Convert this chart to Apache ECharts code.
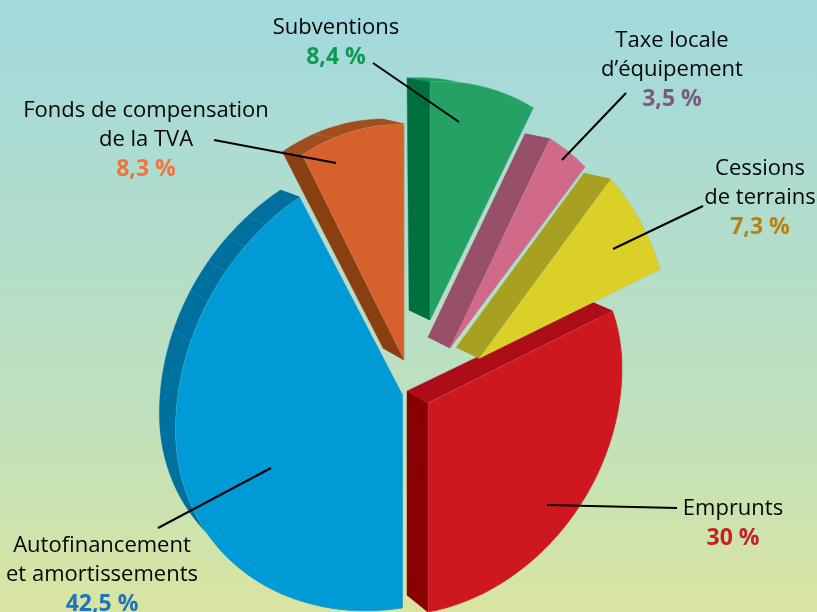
<!DOCTYPE html>
<html>
<head>
<meta charset="utf-8">
<style>
  html, body { margin: 0; padding: 0; }
  #chart { width: 817px; height: 612px; }
</style>
</head>
<body>
<div id="chart"></div>
<script src="https://cdn.jsdelivr.net/npm/echarts@6/dist/echarts.min.js"></script>
<script>
// parts, clockwise from 12 o'clock
const names = [
  ['Subventions'],
  ['Taxe locale', 'd’équipement'],
  ['Cessions', 'de terrains'],
  ['Emprunts'],
  ['Autofinancement', 'et amortissements'],
  ['Fonds de compensation', 'de la TVA']
]
const shares = [8.4, 3.5, 7.3, 30, 42.5, 8.3]

// look of each slice, same order as shares
const faceColors = ['#24a265', '#d16a89', '#dbd028', '#ce171f', '#009bd6', '#d5612d']
// start edge, rim, end edge
const sideColors = [
  ['#01703f', '#1f9a5e', '#01703f'],
  ['#98506a', '#98506a', '#98506a'],
  ['#a8a021', '#a8a021', '#a8a021'],
  ['#ad0d16', '#890000', '#890000'],
  ['#00709f', '#00709f', '#00709f'],
  ['#8a3f12', '#a24d1e', '#8a3f12']
]
const valueColors = ['#0e9a50', '#7b5a7f', '#b8820f', '#c5202b', '#1f75bb', '#f0743a']
const layerOrder = [3, 4, 2, 1, 0, 5]
const angleShift = [0, 0, 0, 2.88, 2.88, 0]
const apexes = [[430, 320], [450, 348], [479.3, 358.3], [428, 403], [402.5, 395], [404, 360]]
// tilted pie: x stretch, y shear, upper radius, lower radius
const tilt = [
  [205, -13, 238, 238],
  [198.5, -14, 234, 234],
  [193.5, -3.5, 241, 241],
  [194, -35, 190, 209],
  [227, -35, 240, 213],
  [204, 1, 236, 236]
]
// extrusion offset at apex, at start of arc, at end of arc
const depths = [
  [[-21, -10], [-23, -4], [-23, -4]],
  [[-22, -11], [-25, -5], [-25, -5]],
  [[-23, -11], [-27, -6], [-27, -6]],
  [[-21, -12], [-21, -9], [-21, -17]],
  [[-20, -10], [-12, -24], [-19, -7]],
  [[-21, -12], [-20, -3], [-22, -5]]
]
const facetLines = [[], [], [], [], [291, 301, 309, 316, 323], [340]]

// label blocks: centre x, first line y, then the end points of the leader
const labelX = [336, 672, 760, 733, 102, 146]
const labelY = [28, 41, 169, 509, 546, 111]
const leaders = [
  [373, 63, 459, 122],
  [626, 93, 562, 160],
  [703, 206, 613, 249],
  [677, 508, 547, 505],
  [158, 528, 271, 468],
  [214, 140, 336, 163]
]
const lineStep = 29

const startAngles = []
shares.reduce((sum, v, i) => {
  startAngles[i] = sum + angleShift[i]
  return sum + v * 3.6
}, 0)

function renderSlice(params, api) {
  const i = params.dataIndex
  const sweep = api.value(0) * 3.6
  const t0 = startAngles[i]
  const t1 = t0 + sweep
  const [ax, ay] = apexes[i]
  const [a, b, cUp, cDown] = tilt[i]
  const [offApex, offStart, offEnd] = depths[i]

  const front = (deg) => {
    const r = deg * Math.PI / 180
    const s = Math.sin(r)
    const c = Math.cos(r)
    return [ax + a * s, ay + b * s - (c > 0 ? cUp : cDown) * c]
  }
  const back = (deg) => {
    const p = front(deg)
    const k = (deg - t0) / sweep
    return [
      p[0] + offStart[0] + (offEnd[0] - offStart[0]) * k,
      p[1] + offStart[1] + (offEnd[1] - offStart[1]) * k
    ]
  }

  const arc = []
  const steps = Math.ceil(sweep)
  for (let n = 0; n <= steps; n++) arc.push(t0 + sweep * n / steps)

  const backApex = [ax + offApex[0], ay + offApex[1]]
  const z = layerOrder.indexOf(i) * 10
  const poly = (points, color, extra) => ({
    type: 'polygon',
    z2: z + extra,
    shape: { points: points },
    style: { fill: color, stroke: color, lineWidth: 0.4 }
  })

  const children = [
    poly([[ax, ay], front(t1), back(t1), backApex], sideColors[i][2], 0),
    poly(arc.map(front).concat(arc.slice().reverse().map(back)), sideColors[i][1], 1),
    poly([[ax, ay], front(t0), back(t0), backApex], sideColors[i][0], 2)
  ]
  facetLines[i].forEach((deg) => {
    const p = front(deg)
    const q = back(deg)
    children.push({
      type: 'line',
      z2: z + 3,
      shape: { x1: p[0], y1: p[1], x2: q[0], y2: q[1] },
      style: { stroke: 'rgba(255,255,255,0.15)', lineWidth: 0.7 }
    })
  })
  children.push({
    type: 'polygon',
    z2: z + 4,
    shape: { points: [[ax, ay]].concat(arc.map(front)) },
    style: { fill: faceColors[i], stroke: 'rgba(255,255,255,0.2)', lineWidth: 0.6 }
  })
  return { type: 'group', children: children }
}

const labelFont = '"Open Sans", "Noto Sans", sans-serif'
const annotations = []
names.forEach((lines, i) => {
  const [x1, y1, x2, y2] = leaders[i]
  annotations.push({
    type: 'line',
    z: 100,
    shape: { x1, y1, x2, y2 },
    style: { stroke: '#000', lineWidth: 2 }
  })
  lines.forEach((text, n) => {
    annotations.push({
      type: 'text',
      z: 100,
      x: labelX[i],
      y: labelY[i] + n * lineStep,
      style: { text, fill: '#050505', font: '22px ' + labelFont, align: 'center', verticalAlign: 'middle' }
    })
  })
  annotations.push({
    type: 'text',
    z: 100,
    x: labelX[i],
    y: labelY[i] + lines.length * lineStep,
    style: {
      text: String(shares[i]).replace('.', ',') + ' %',
      fill: valueColors[i],
      font: 'bold 23px ' + labelFont,
      align: 'center',
      verticalAlign: 'middle'
    }
  })
})

const chart = echarts.init(document.getElementById('chart'))
chart.setOption({
  animation: false,
  backgroundColor: new echarts.graphic.LinearGradient(0, 0, 0, 1, [
    { offset: 0, color: '#a1d9de' },
    { offset: 0.65, color: '#bee0bf' },
    { offset: 1, color: '#d9e5a0' }
  ]),
  series: [
    {
      type: 'custom',
      coordinateSystem: 'none',
      silent: true,
      renderItem: renderSlice,
      data: shares.map((v) => [v])
    }
  ],
  graphic: { elements: annotations }
})
</script>
</body>
</html>
